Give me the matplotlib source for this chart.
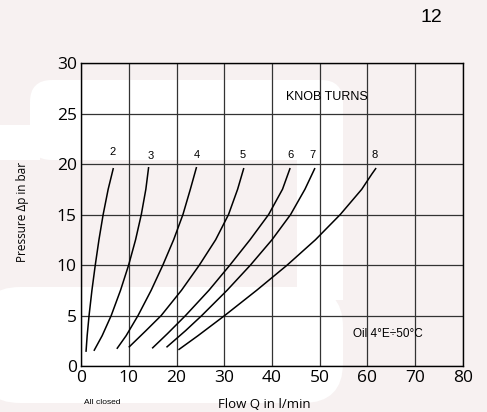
import matplotlib.pyplot as plt
from matplotlib.patches import FancyBboxPatch, Rectangle
from matplotlib import font_manager

W, H = 487, 412
PINK = '#f7f1f1'

# knob turn curves (Q in l/min, dp in bar)
turns = ['2', '3', '4', '5', '6', '7', '8']
q_vals = [
    [1.05, 1.29, 1.69, 2.29, 2.99, 3.76, 4.64, 5.69, 6.78],
    [2.7, 4.43, 6.33, 8.28, 9.98, 11.43, 12.63, 13.58, 14.17],
    [7.5, 9.45, 11.95, 14.7, 17.15, 19.4, 21.35, 22.9, 24.2],
    [10.0, 13.6, 16.8, 21.05, 24.8, 28.2, 30.9, 32.8, 34.1],
    [14.9, 18.1, 21.9, 26.8, 31.2, 35.4, 39.3, 42.2, 43.8],
    [17.9, 21.9, 25.3, 30.6, 35.5, 40.0, 43.9, 46.9, 49.0],
    [20.4, 24.5, 30.1, 36.8, 43.2, 49.1, 54.3, 58.8, 60.9, 61.8],
]
p_vals = [
    [1.4, 3.0, 5.0, 7.5, 10.0, 12.5, 15.0, 17.5, 19.6],
    [1.5, 3.0, 5.0, 7.5, 10.0, 12.5, 15.0, 17.5, 19.7],
    [1.7, 3.0, 5.0, 7.5, 10.0, 12.5, 15.0, 17.5, 19.7],
    [1.85, 3.5, 5.0, 7.5, 10.0, 12.5, 15.0, 17.5, 19.6],
    [1.75, 3.2, 5.0, 7.5, 10.0, 12.5, 15.0, 17.5, 19.6],
    [1.85, 3.5, 5.0, 7.5, 10.0, 12.5, 15.0, 17.5, 19.6],
    [1.6, 3.0, 5.0, 7.5, 10.0, 12.5, 15.0, 17.5, 19.0, 19.6],
]
label_q = [6.7, 14.6, 24.3, 33.9, 43.8, 48.4, 61.4]
label_p = [21.2, 20.8, 20.9, 20.9, 20.9, 20.9, 20.9]

x_ticks = [0, 10, 20, 30, 40, 50, 60, 70, 80]
y_ticks = [0, 5, 10, 15, 20, 25, 30]

names = {f.name for f in font_manager.fontManager.ttflist}
narrow = 'Liberation Sans Narrow' if 'Liberation Sans Narrow' in names else 'Liberation Sans'

fig = plt.figure(figsize=(W / 100, H / 100), dpi=100, facecolor=PINK)


# faint white letter in the background, given in pixel coords
def white_box(x0, y0, x1, y1, r=0):
    fx, fy = x0 / W, 1 - y1 / H
    fw, fh = (x1 - x0) / W, (y1 - y0) / H
    if r:
        p = FancyBboxPatch((fx + r / W, fy + r / H), fw - 2 * r / W, fh - 2 * r / H,
                           boxstyle='round,pad=%f' % (r / W), transform=fig.transFigure,
                           facecolor='white', edgecolor='none', zorder=-10,
                           mutation_aspect=W / H)
    else:
        p = Rectangle((fx, fy), fw, fh, transform=fig.transFigure,
                      facecolor='white', edgecolor='none', zorder=-10)
    fig.patches.append(p)


white_box(30, 80, 343, 160, 22)
white_box(0, 125, 40, 160)
white_box(297, 110, 343, 300)
white_box(-20, 287, 343, 403, 40)

ax = fig.add_axes([81 / W, 1 - 366 / H, 382 / W, 303 / H])
ax.set_facecolor('none')
ax.set_zorder(1)

for q, p in zip(q_vals, p_vals):
    ax.plot(q, p, color='black', lw=1.1, solid_capstyle='butt', solid_joinstyle='round')
for t, xq, yp in zip(turns, label_q, label_p):
    ax.text(xq, yp, t, ha='center', va='center', fontsize=8, family='Liberation Sans')

ax.set_xlim(0, 80)
ax.set_ylim(0, 30)
ax.set_xticks(x_ticks)
ax.set_yticks(y_ticks)
ax.grid(True, color='#333333', lw=0.9)
ax.set_axisbelow(True)
for s in ax.spines.values():
    s.set_linewidth(1.0)
    s.set_color('black')
ax.tick_params(length=0, labelsize=12.5, pad=3)
for lab in ax.get_xticklabels() + ax.get_yticklabels():
    lab.set_family('Open Sans')

ax.text(51.5, 26.6, 'KNOB TURNS', ha='center', va='center', fontsize=9, family=narrow)
ax.text(64.3, 3.2, 'Oil 4°E÷50°C', ha='center', va='center', fontsize=8.5, family=[narrow, 'DejaVu Sans'])

fig.text(102 / W, 1 - 402 / H, 'All closed', ha='center', va='center', fontsize=6, family=narrow)
fig.text(264 / W, 1 - 404 / H, 'Flow Q in l/min', ha='center', va='center', fontsize=9.5, family='Open Sans')
fig.text(23 / W, 1 - 212 / H, 'Pressure Δp in bar', ha='center', va='center', rotation=90,
         fontsize=8.5, family='Open Sans')
fig.text(431 / W, 1 - 18 / H, '12', ha='center', va='center', fontsize=14, family='Liberation Sans')

fig.savefig('out.png', dpi=100, facecolor=PINK)
